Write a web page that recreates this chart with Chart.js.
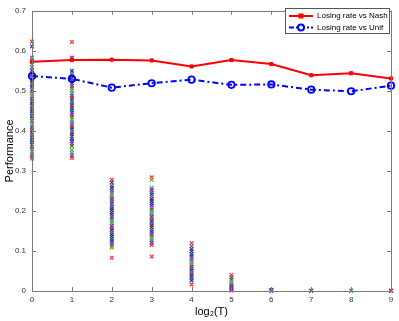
<!DOCTYPE html>
<html>
<head>
<meta charset="utf-8">
<script src="https://cdn.jsdelivr.net/npm/chart.js@4.4.1/dist/chart.umd.min.js"></script>
<style>
  html, body { margin: 0; padding: 0; background: #ffffff; }
  #wrap { width: 399px; height: 321px; }
</style>
</head>
<body>
<div id="wrap"><canvas id="grafico" width="399" height="321"></canvas></div>
<script>
// ==========================================
// DATA
// ==========================================
const xTicks = [0, 1, 2, 3, 4, 5, 6, 7, 8, 9];
const yTicks = [0, 0.1, 0.2, 0.3, 0.4, 0.5, 0.6, 0.7];

const nashRate = [0.573, 0.577, 0.578, 0.576, 0.561, 0.577, 0.567, 0.539, 0.544, 0.531];
const unifRate = [0.537, 0.530, 0.508, 0.519, 0.528, 0.515, 0.516, 0.503, 0.499, 0.513];

// individual runs (x markers) per log2(T)
const runs0 = [0.623, 0.611, 0.583, 0.574, 0.566, 0.559, 0.552, 0.546, 0.540, 0.534, 0.527, 0.522, 0.515, 0.510, 0.503, 0.498, 0.491, 0.486, 0.480, 0.473, 0.468, 0.461, 0.456, 0.449, 0.444, 0.437, 0.432, 0.425, 0.420, 0.413, 0.408, 0.401, 0.396, 0.389, 0.384, 0.377, 0.372, 0.366, 0.360, 0.354, 0.348, 0.342, 0.336, 0.331];
const runs1 = [0.622, 0.583, 0.578, 0.550, 0.544, 0.538, 0.531, 0.525, 0.519, 0.513, 0.507, 0.500, 0.494, 0.488, 0.482, 0.476, 0.470, 0.464, 0.458, 0.452, 0.446, 0.440, 0.434, 0.428, 0.422, 0.416, 0.410, 0.404, 0.398, 0.392, 0.386, 0.380, 0.374, 0.368, 0.362, 0.352, 0.345, 0.338, 0.332];
const runs2 = [0.278, 0.271, 0.263, 0.257, 0.251, 0.246, 0.240, 0.235, 0.229, 0.224, 0.218, 0.213, 0.207, 0.202, 0.196, 0.191, 0.185, 0.180, 0.174, 0.169, 0.163, 0.158, 0.152, 0.147, 0.141, 0.136, 0.130, 0.125, 0.119, 0.114, 0.109, 0.083];
const runs3 = [0.284, 0.278, 0.258, 0.252, 0.246, 0.241, 0.236, 0.230, 0.225, 0.219, 0.214, 0.208, 0.203, 0.197, 0.192, 0.186, 0.181, 0.175, 0.170, 0.164, 0.159, 0.153, 0.148, 0.142, 0.137, 0.131, 0.126, 0.121, 0.115, 0.086];
const runs4 = [0.120, 0.112, 0.105, 0.099, 0.092, 0.087, 0.081, 0.076, 0.071, 0.066, 0.061, 0.056, 0.051, 0.046, 0.041, 0.036, 0.031, 0.026, 0.016];
const runs5 = [0.040, 0.034, 0.029, 0.024, 0.019, 0.014, 0.010, 0.006, 0.003, 0.001];
const runs6 = [0.003, 0.002, 0.001, 0.000];
const runs7 = [0.001, 0.000];
const runs8 = [0.001, 0.000];
const runs9 = [0.001, 0.000];
const runColumns = [runs0, runs1, runs2, runs3, runs4, runs5, runs6, runs7, runs8, runs9];

const markerColors = ["#1f6f6f", "#2a2aff", "#c020c0", "#2a8a2a", "#a09020", "#10b0b0", "#7030c0", "#d03030", "#105050", "#3070ff", "#a01070", "#404040"];

// ==========================================
// GRÁFICO
// ==========================================
function montarPontos() {
    const pontos = [];
    const cores = [];
    runColumns.forEach(function (coluna, ix) {
        coluna.forEach(function (valor, i) {
            pontos.push({ x: xTicks[ix], y: valor });
            const ponta = (i === 0 || (i === coluna.length - 1 && ix < 5));
            cores.push(ponta ? "#ff3030" : markerColors[(i + ix * 5) % markerColors.length]);
        });
    });
    return { pontos: pontos, cores: cores };
}

// moldura, ticks internos e legenda no estilo MATLAB
const molduraPlugin = {
    id: "moldura",
    afterDraw: function (chart) {
        const ctx = chart.ctx;
        const area = chart.chartArea;
        const sx = chart.scales.x;
        const sy = chart.scales.y;
        ctx.save();
        ctx.strokeStyle = "#7a7a7a";
        ctx.lineWidth = 1;
        ctx.strokeRect(Math.round(area.left) + 0.5, Math.round(area.top) + 0.5,
            Math.round(area.right - area.left), Math.round(area.bottom - area.top));
        ctx.beginPath();
        xTicks.forEach(function (v) {
            const px = Math.round(sx.getPixelForValue(v)) + 0.5;
            ctx.moveTo(px, area.bottom); ctx.lineTo(px, area.bottom - 4);
            ctx.moveTo(px, area.top); ctx.lineTo(px, area.top + 4);
        });
        yTicks.forEach(function (v) {
            const py = Math.round(sy.getPixelForValue(v)) + 0.5;
            ctx.moveTo(area.left, py); ctx.lineTo(area.left + 4, py);
            ctx.moveTo(area.right, py); ctx.lineTo(area.right - 4, py);
        });
        ctx.stroke();

        // legenda
        const lx = 285.5, ly = 8.5, lw = 104, lh = 25;
        ctx.fillStyle = "#ffffff";
        ctx.fillRect(lx, ly, lw, lh);
        ctx.strokeStyle = "#555555";
        ctx.strokeRect(lx, ly, lw, lh);

        ctx.lineWidth = 2;
        ctx.strokeStyle = "#ff0000";
        ctx.beginPath(); ctx.moveTo(289, 16); ctx.lineTo(313, 16); ctx.stroke();
        ctx.fillStyle = "#ff0000";
        ctx.fillRect(298.5, 13.5, 5, 5);

        ctx.strokeStyle = "#0000ff";
        ctx.setLineDash([5, 2, 2, 2]);
        ctx.beginPath(); ctx.moveTo(289, 27.5); ctx.lineTo(313, 27.5); ctx.stroke();
        ctx.setLineDash([]);
        ctx.fillStyle = "#ffffff";
        ctx.beginPath(); ctx.arc(301, 27.5, 3, 0, Math.PI * 2); ctx.fill(); ctx.stroke();

        ctx.fillStyle = "#000000";
        ctx.font = "8px 'Liberation Sans', Arial, sans-serif";
        ctx.textBaseline = "middle";
        ctx.textAlign = "left";
        ctx.fillText("Losing rate vs Nash", 317, 16);
        ctx.fillText("Losing rate vs Unif", 317, 27.5);
        ctx.restore();
    }
};

function criarGrafico() {
    const ctx = document.getElementById("grafico");
    const dados = montarPontos();
    const fonteTicks = { family: "'Liberation Sans', Arial, sans-serif", size: 8 };
    const fonteTitulo = { family: "'Liberation Sans', Arial, sans-serif", size: 11 };

    new Chart(ctx, {
        type: "scatter",
        data: {
            datasets: [
                {
                    label: "runs",
                    data: dados.pontos,
                    pointStyle: "crossRot",
                    radius: 2.6,
                    borderWidth: 1.2,
                    pointBorderColor: dados.cores,
                    pointBackgroundColor: dados.cores,
                    showLine: false,
                    clip: false,
                    order: 3
                },
                {
                    label: "Losing rate vs Nash",
                    data: xTicks.map(function (x, i) { return { x: x, y: nashRate[i] }; }),
                    showLine: true,
                    borderColor: "#ff0000",
                    backgroundColor: "#ff0000",
                    borderWidth: 2,
                    pointStyle: "rect",
                    radius: 2.2,
                    pointBorderWidth: 1,
                    clip: false,
                    order: 1
                },
                {
                    label: "Losing rate vs Unif",
                    data: xTicks.map(function (x, i) { return { x: x, y: unifRate[i] }; }),
                    showLine: true,
                    borderColor: "#0000ff",
                    backgroundColor: "rgba(255,255,255,0)",
                    borderWidth: 2,
                    borderDash: [6, 3, 2, 3],
                    pointStyle: "circle",
                    radius: 3.2,
                    pointBorderWidth: 1.8,
                    clip: false,
                    order: 2
                }
            ]
        },
        options: {
            responsive: false,
            animation: false,
            layout: { padding: { top: 7.5, right: 8, left: 0, bottom: 0 } },
            plugins: {
                legend: { display: false },
                tooltip: { enabled: false }
            },
            scales: {
                x: {
                    type: "linear",
                    min: 0,
                    max: 9,
                    afterFit: function (scale) { scale.height = 30; },
                    afterBuildTicks: function (scale) { scale.ticks = xTicks.map(function (v) { return { value: v }; }); },
                    grid: { display: false, drawTicks: false, tickLength: 0 },
                    border: { display: false },
                    ticks: { color: "#333333", font: fonteTicks, padding: 4, maxRotation: 0 },
                    title: { display: true, text: "log₂(T)", color: "#000000", font: fonteTitulo, padding: { top: 0, bottom: 2 } }
                },
                y: {
                    type: "linear",
                    min: 0,
                    max: 0.7,
                    afterFit: function (scale) { scale.width = 32; },
                    afterBuildTicks: function (scale) { scale.ticks = yTicks.map(function (v) { return { value: v }; }); },
                    grid: { display: false, drawTicks: false, tickLength: 0 },
                    border: { display: false },
                    ticks: {
                        color: "#333333",
                        font: fonteTicks,
                        padding: 6,
                        callback: function (value) { return value === 0 ? "0" : value.toFixed(1); }
                    },
                    title: { display: true, text: "Performance", color: "#000000", font: fonteTitulo, padding: { top: 3, bottom: 0 } }
                }
            }
        },
        plugins: [molduraPlugin]
    });
}

document.addEventListener("DOMContentLoaded", criarGrafico);
</script>
</body>
</html>
